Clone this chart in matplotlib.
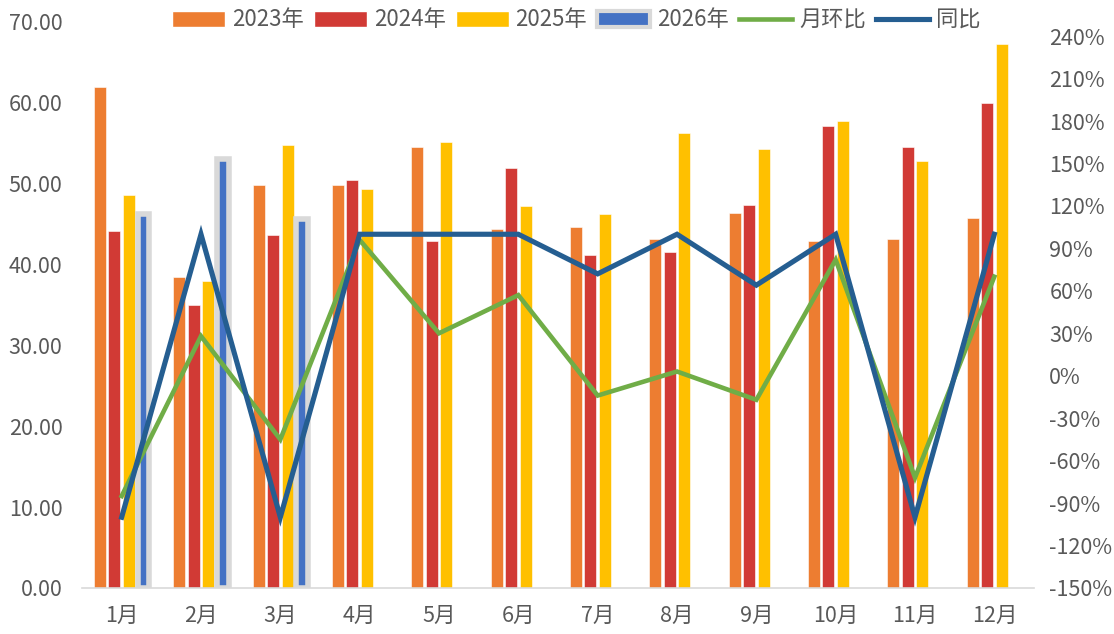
import numpy as np
from matplotlib import pyplot as plt
from matplotlib.patches import Patch
from matplotlib.lines import Line2D
from matplotlib.ticker import FuncFormatter

plt.rcParams['font.family'] = ['Noto Sans CJK SC', 'DejaVu Sans']

months = ['1月', '2月', '3月', '4月', '5月', '6月', '7月', '8月', '9月', '10月', '11月', '12月']
y2023 = [62.0, 38.5, 49.9, 49.9, 54.6, 44.4, 44.7, 43.2, 46.4, 42.9, 43.2, 45.7]
y2024 = [44.2, 35.0, 43.7, 50.4, 42.9, 51.9, 41.2, 41.5, 47.4, 57.1, 54.6, 60.0]
y2025 = [48.6, 38.0, 54.8, 49.4, 55.1, 47.2, 46.2, 56.3, 54.3, 57.8, 52.8, 67.3]
y2026 = [46.3, 53.0, 45.6, np.nan, np.nan, np.nan, np.nan, np.nan, np.nan, np.nan, np.nan, np.nan]
mom = [-85, 28, -45, 96, 30, 57, -14, 3, -17, 82, -72, 70]   # 月环比 %
yoy = [-100, 100, -100, 100, 100, 100, 72, 100, 64, 100, -100, 100]   # 同比 %

c23 = '#ED7D31'
c24 = '#D13A35'
c25 = '#FFC000'
c26 = '#4472C4'
c26_edge = '#D9D9D9'
c_mom = '#70AD47'
c_yoy = '#255E91'
txt = '#595959'

fig = plt.figure(figsize=(11.14, 6.34), dpi=100)
ax = fig.add_axes([82 / 1114, 1 - 588 / 634, 952 / 1114, 566 / 634])

x = np.arange(len(months))
slot = 0.183
w = 0.151
ax.bar(x - 1.5 * slot, y2023, w, color=c23, edgecolor='white', linewidth=0.4)
ax.bar(x - 0.5 * slot, y2024, w, color=c24, edgecolor='white', linewidth=0.4)
ax.bar(x + 0.5 * slot, y2025, w, color=c25, edgecolor='white', linewidth=0.4)
# 2026: blue bar with a wide grey border, as in the source
ax.bar(x + 1.5 * slot, y2026, 0.145, color=c26, edgecolor=c26_edge, linewidth=4.0)

ax.set_xlim(-0.5, 11.5)
ax.set_ylim(0, 70)
ax.set_yticks(np.arange(0, 71, 10))
ax.yaxis.set_major_formatter(FuncFormatter(lambda v, p: '%.2f' % v))
ax.set_xticks(x)
ax.set_xticklabels(months)
for s in ['top', 'right', 'left']:
    ax.spines[s].set_visible(False)
ax.spines['bottom'].set_color('#D9D9D9')
ax.spines['bottom'].set_linewidth(1.2)
ax.tick_params(axis='both', length=0, labelsize=15.5, colors=txt)
ax.tick_params(axis='y', pad=14)
ax.tick_params(axis='x', pad=12)

ax2 = ax.twinx()
ax2.plot(x, mom, color=c_mom, linewidth=3.3, solid_joinstyle='miter')
ax2.plot(x, yoy, color=c_yoy, linewidth=3.7, solid_joinstyle='miter')
ax2.set_ylim(-150, 250)
ax2.set_yticks(np.arange(-150, 241, 30))
ax2.yaxis.set_major_formatter(FuncFormatter(lambda v, p: '%d%%' % v))
for s in ['top', 'right', 'left', 'bottom']:
    ax2.spines[s].set_visible(False)
ax2.tick_params(axis='y', length=0, labelsize=15.5, colors=txt, pad=11)

handles = [
    Patch(facecolor=c23, edgecolor='white'),
    Patch(facecolor=c24, edgecolor='white'),
    Patch(facecolor=c25, edgecolor='white'),
    Patch(facecolor=c26, edgecolor=c26_edge, linewidth=3),
    Line2D([0], [0], color=c_mom, linewidth=3.3),
    Line2D([0], [0], color=c_yoy, linewidth=3.7),
]
labels = ['2023年', '2024年', '2025年', '2026年', '月环比', '同比']
leg = fig.legend(handles, labels, loc='center', bbox_to_anchor=(576 / 1114, 1 - 20 / 634),
                 ncol=6, frameon=False, fontsize=16, handlelength=2.4,
                 handleheight=0.7, columnspacing=0.45, handletextpad=0.3,
                 borderpad=0, borderaxespad=0)
for t in leg.get_texts():
    t.set_color(txt)

fig.savefig('out.png', dpi=100)
